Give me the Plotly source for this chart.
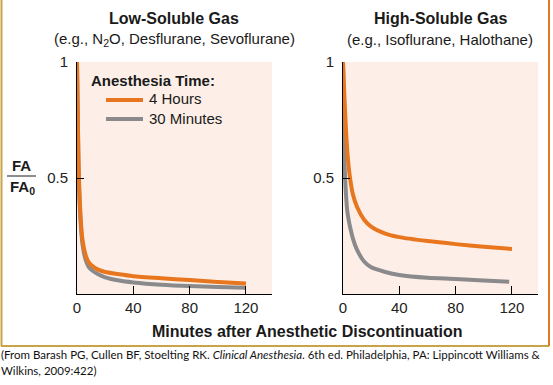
import plotly.graph_objects as go

# ---- data ----
low_t_4h = [0, 0.5, 1, 1.5, 2, 3, 4, 6, 8, 10, 15, 20, 30, 40, 60, 80, 100, 120]
low_v_4h = [1.0, 0.8, 0.6, 0.48, 0.40, 0.29, 0.23, 0.17, 0.14, 0.125, 0.105, 0.095, 0.085, 0.077, 0.068, 0.06, 0.052, 0.045]
low_t_30m = [0, 0.5, 1, 1.5, 2, 3, 4, 6, 8, 10, 15, 20, 30, 40, 60, 80, 100, 120]
low_v_30m = [1.0, 0.78, 0.57, 0.45, 0.37, 0.27, 0.21, 0.15, 0.12, 0.105, 0.085, 0.072, 0.058, 0.05, 0.04, 0.034, 0.03, 0.027]

high_t_4h = [0, 1, 2, 3, 4, 5, 7, 10, 15, 20, 30, 40, 60, 80, 100, 120]
high_v_4h = [1.0, 0.85, 0.72, 0.62, 0.55, 0.5, 0.43, 0.375, 0.32, 0.29, 0.26, 0.245, 0.228, 0.215, 0.204, 0.194]
high_t_30m = [0, 0.5, 1, 1.5, 2, 3, 4, 5, 7, 10, 15, 20, 30, 40, 60, 80, 100, 118]
high_v_30m = [1.0, 0.75, 0.58, 0.5, 0.44, 0.36, 0.32, 0.29, 0.24, 0.19, 0.14, 0.115, 0.095, 0.082, 0.07, 0.065, 0.058, 0.053]

x_ticks = [0, 40, 80, 120]
y_ticks = [0.5, 1]
y_tick_labels = ["0.5", "1"]
series_names = ["4 Hours", "30 Minutes"]

ORANGE = "#E8761E"
GRAY = "#8A8A8C"
PINK = "#FDEFE7"
FONT = "Liberation Sans, Arial, sans-serif"
W, H = 553, 385

fig = go.Figure()

# gray first so orange is drawn on top
fig.add_trace(go.Scatter(x=low_t_30m, y=low_v_30m, mode="lines", name=series_names[1],
                         line=dict(color=GRAY, width=4, shape="spline", smoothing=0.6),
                         xaxis="x", yaxis="y"))
fig.add_trace(go.Scatter(x=low_t_4h, y=low_v_4h, mode="lines", name=series_names[0],
                         line=dict(color=ORANGE, width=4, shape="spline", smoothing=0.6),
                         xaxis="x", yaxis="y"))
fig.add_trace(go.Scatter(x=high_t_30m, y=high_v_30m, mode="lines", name=series_names[1],
                         line=dict(color=GRAY, width=4, shape="spline", smoothing=0.6),
                         xaxis="x2", yaxis="y2"))
fig.add_trace(go.Scatter(x=high_t_4h, y=high_v_4h, mode="lines", name=series_names[0],
                         line=dict(color=ORANGE, width=4, shape="spline", smoothing=0.6),
                         xaxis="x2", yaxis="y2"))

def px_x(p):
    return p / W

def px_y(p):
    return 1 - p / H

XMAX = 138.5
xa = dict(range=[0, XMAX], tickvals=x_ticks, ticktext=[str(v) for v in x_ticks],
          ticks="inside", ticklen=8, tickcolor="black", showline=True, linecolor="black",
          linewidth=1, showgrid=False, zeroline=False, fixedrange=True, automargin=False,
          minor=dict(tickvals=[XMAX], ticks="inside", ticklen=8, tickcolor="black", showgrid=False),
          tickfont=dict(size=15, color="#222", family=FONT))
ya = dict(range=[0, 1], tickvals=y_ticks, ticktext=y_tick_labels, ticks="inside", ticklen=7,
          tickcolor="black", showline=True, linecolor="black", linewidth=1, showgrid=False,
          zeroline=False, fixedrange=True, automargin=False, ticklabelstandoff=5,
          tickfont=dict(size=15, color="#222", family=FONT))

y_dom = [px_y(294), px_y(62)]
fig.update_layout(
    width=W, height=H,
    margin=dict(l=0, r=0, t=0, b=0, autoexpand=False),
    paper_bgcolor="white", plot_bgcolor=PINK,
    font=dict(family=FONT, color="#1a1a1a"),
    xaxis=dict(xa, domain=[px_x(77), px_x(272)], anchor="y"),
    yaxis=dict(ya, domain=y_dom, anchor="x"),
    xaxis2=dict(xa, domain=[px_x(343), px_x(538)], anchor="y2"),
    yaxis2=dict(ya, domain=y_dom, anchor="x2"),
    showlegend=False,
)

ann = [
    dict(text="<b>Low-Soluble Gas</b>", x=174, y=18, size=16, anchor="center"),
    dict(text="(e.g., N<sub>2</sub>O, Desflurane, Sevoflurane)", x=174, y=39, size=15, anchor="center"),
    dict(text="<b>High-Soluble Gas</b>", x=440, y=18, size=16, anchor="center"),
    dict(text="(e.g., Isoflurane, Halothane)", x=440, y=39, size=15, anchor="center"),
    dict(text="<b>Minutes after Anesthetic Discontinuation</b>", x=307, y=331, size=16, anchor="center"),
    dict(text="<b>FA</b>", x=21, y=165, size=15, anchor="center"),
    dict(text="<b>FA<sub>0</sub></b>", x=22, y=188, size=15, anchor="center"),
    # legend (key)
    dict(text="<b>Anesthesia Time:</b>", x=89, y=80, size=15, anchor="left"),
    dict(text=series_names[0], x=147, y=99, size=15, anchor="left"),
    dict(text=series_names[1], x=147, y=118, size=15, anchor="left"),
]
annotations = [dict(text=a["text"], x=px_x(a["x"]), y=px_y(a["y"]), xref="paper", yref="paper",
                    xanchor=a["anchor"], yanchor="middle", showarrow=False,
                    font=dict(size=a["size"], family=FONT, color="#1a1a1a")) for a in ann]
cite_lines = [
    "(From Barash PG, Cullen BF, Stoelting RK. <i>Clinical Anesthesia</i>. 6th ed. Philadelphia, PA: Lippincott Williams &amp;",
    "Wilkins, 2009:422)",
]
for i, line in enumerate(cite_lines):
    annotations.append(dict(
        text=line, x=px_x(-1), y=px_y(354 + 16 * i), xref="paper", yref="paper",
        xanchor="left", yanchor="middle", align="left", showarrow=False,
        font=dict(size=11.5, family="Lato, sans-serif", color="#111")))
fig.update_layout(annotations=annotations)

shapes = [
    dict(type="line", xref="paper", yref="paper", x0=px_x(7), x1=px_x(36), y0=px_y(176), y1=px_y(176),
         line=dict(color="#1a1a1a", width=1)),
    # legend keys
    dict(type="line", xref="paper", yref="paper", x0=px_x(106), x1=px_x(143), y0=px_y(100), y1=px_y(100),
         line=dict(color=ORANGE, width=4)),
    dict(type="line", xref="paper", yref="paper", x0=px_x(106), x1=px_x(143), y0=px_y(119), y1=px_y(119),
         line=dict(color=GRAY, width=4)),
    # frame
    dict(type="line", xref="paper", yref="paper", x0=px_x(1.5), x1=px_x(1.5), y0=px_y(0), y1=px_y(346),
         line=dict(color="#C8A446", width=2)),
    dict(type="line", xref="paper", yref="paper", x0=px_x(1), x1=px_x(549), y0=px_y(346), y1=px_y(346),
         line=dict(color="#C8A446", width=2)),
    dict(type="line", xref="paper", yref="paper", x0=px_x(549), x1=px_x(549), y0=px_y(0), y1=px_y(346),
         line=dict(color=ORANGE, width=2)),
]
fig.update_layout(shapes=shapes)

fig.write_html("out.html", config={"displayModeBar": False},
               post_script="document.body.style.margin='0';document.body.style.padding='0';")
